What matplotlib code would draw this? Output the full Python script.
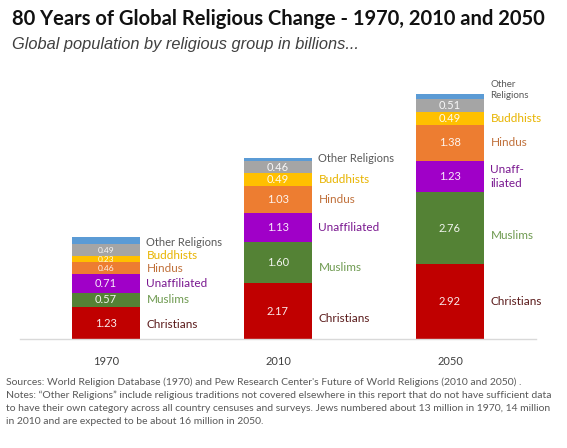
import matplotlib
matplotlib.use("Agg")
import matplotlib.pyplot as plt
import numpy as np

years = ["1970", "2010", "2050"]
christians = [1.23, 2.17, 2.92]
muslims = [0.57, 1.60, 2.76]
unaffiliated = [0.71, 1.13, 1.23]
hindus = [0.46, 1.03, 1.38]
buddhists = [0.23, 0.49, 0.49]
other_gray = [0.49, 0.46, 0.51]
other_blue = [0.25, 0.15, 0.2]

series = [
    ("Christians", christians, "#C00000", "#5A1A1A"),
    ("Muslims", muslims, "#548235", "#6E9A50"),
    ("Unaffiliated", unaffiliated, "#A000C8", "#7A1890"),
    ("Hindus", hindus, "#ED7D31", "#C0703A"),
    ("Buddhists", buddhists, "#FFC000", "#E8B400"),
    ("Other", other_gray, "#A5A5A5", "#595959"),
]

W, H = 567, 448
fig = plt.figure(figsize=(W / 100, H / 100), dpi=100)
ax_left, ax_right, ax_bottom, ax_top = 20, 536, 339, 81
ax = fig.add_axes([ax_left / W, 1 - ax_bottom / H, (ax_right - ax_left) / W, (ax_bottom - ax_top) / H])
ax.set_xlim(-0.5, 2.5)
ax.set_ylim(0, 10)
for s in ["top", "right", "left"]:
    ax.spines[s].set_visible(False)
ax.spines["bottom"].set_color("#D9D9D9")
ax.spines["bottom"].set_linewidth(1)
ax.set_yticks([])
x = np.arange(len(years))
ax.set_xticks(x)
ax.set_xticklabels(years, fontsize=8, color="#404040", family="Lato")
ax.tick_params(axis="x", length=0, pad=12)

bw = 0.4
bottom = np.zeros(3)
centers = {}
values_list = []
for name, vals, col, tcol in series:
    v = np.array(vals)
    ax.bar(x, v, bw, bottom=bottom, color=col, edgecolor="none")
    values_list.append((bottom.copy(), v))
    centers[name] = bottom + v / 2
    bottom = bottom + v
gray_top = bottom.copy()
ax.bar(x, other_blue, bw, bottom=bottom, color="#5B9BD5", edgecolor="none")

# value labels; crowded thin segments get a slightly smaller font
for k, (b, v) in enumerate(values_list):
    for i in range(3):
        crowded = v[i] < 0.3 or (k > 0 and values_list[k - 1][1][i] < 0.3) or \
                  (k + 1 < len(values_list) and values_list[k + 1][1][i] < 0.3)
        fs = 6.0 if crowded else 8
        ax.text(x[i], b[i] + v[i] / 2, f"{v[i]:.2f}", ha="center", va="center",
                color="white", fontsize=fs, family="Lato", alpha=0.92)

# category labels to the right of each bar
label_names = ["Christians", "Muslims", "Unaffiliated", "Hindus", "Buddhists", "Other Religions"]
label_cols = {n: t for n, _, _, t in series}
label_cols["Other Religions"] = "#595959"
# small nudges (data units) to match the reference label layout
nudge = {
    0: {"Christians": -0.04},
    1: {"Christians": -0.3, "Muslims": -0.2, "Other Religions": 0.1},
    2: {"Muslims": -0.3, "Other Religions": 0.35},
}
for i in range(3):
    prev = -1
    for n in label_names:
        if n == "Other Religions":
            y = gray_top[i]
        else:
            y = centers[n][i]
        y += nudge[i].get(n, 0)
        y = max(y, prev + 0.5)
        prev = y
        txt = n
        if i == 2 and n == "Unaffiliated":
            txt = "Unaff-\niliated"
        if i == 2 and n == "Other Religions":
            txt = "Other\nReligions"
        fs = 8.5 if n not in ("Other Religions",) else 8
        if i == 2 and n == "Other Religions":
            fs = 7
        ax.text(x[i] + bw / 2 + 0.035, y, txt, ha="left", va="center", color=label_cols[n],
                fontsize=fs, family="Lato", linespacing=1.25)

fig.text(12 / W, 1 - 19 / H, "80 Years of Global Religious Change - 1970, 2010 and 2050",
         fontsize=14.5, fontweight="bold", family="Lato", color="#111111", va="center", ha="left")
fig.text(12 / W, 1 - 44 / H, "Global population by religious group in billions...",
         fontsize=11.8, style="italic", family="Liberation Sans", color="#404040", va="center", ha="left")

notes = ("Sources: World Religion Database (1970) and Pew Research Center's Future of World Religions (2010 and 2050) .\n"
         "Notes: \u201cOther Religions\u201d include religious traditions not covered elsewhere in this report that do not have sufficient data\n"
         "to have their own category across all country censuses and surveys. Jews numbered about 13 million in 1970, 14 million\n"
         "in 2010 and are expected to be about 16 million in 2050.")
fig.text(6 / W, 1 - 377 / H, notes, fontsize=7.5, family="Lato", color="#595959", va="top", ha="left",
         linespacing=1.55)

fig.savefig("out.png", dpi=100)
